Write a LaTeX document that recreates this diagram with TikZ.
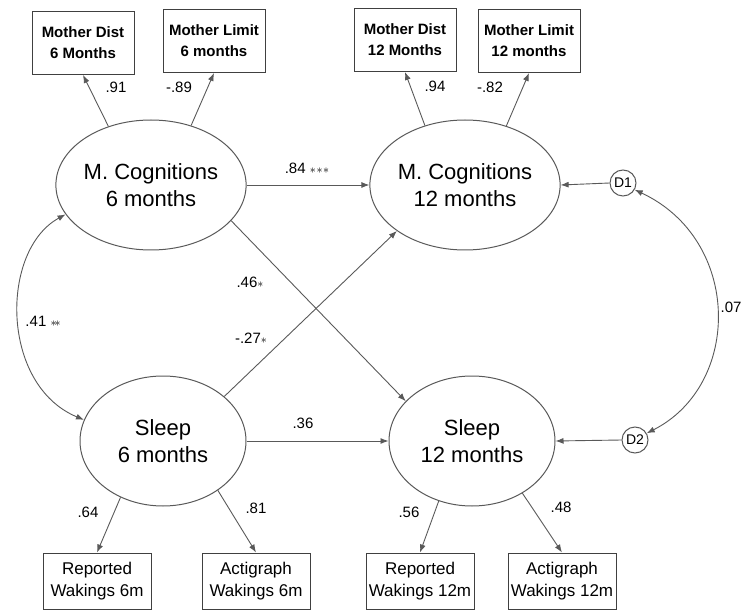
\documentclass[tikz,border=0pt]{standalone}
\usepackage{fontspec}
\setmainfont{Liberation Sans}
\usepackage{tikz}
\usetikzlibrary{arrows.meta}
\usetikzlibrary{shapes}

\newcommand{\sig}[1]{{\fontsize{12}{12}\selectfont$#1$}}

\begin{document}
\begin{tikzpicture}[x=1pt,y=-1pt]
          \useasboundingbox (0,0) rectangle (744,612);
          \begin{scope}[every node/.style={rectangle,draw=black!75,line width=1pt,align=center,fill=white,
              minimum width=102pt,minimum height=63pt,inner sep=2pt,font=\fontsize{15}{21}\selectfont\bfseries}]
            \node (md6) at (83,43) {Mother Dist\\6 Months};
            \node (ml6) at (214,41) {Mother Limit\\6 months};
            \node (md12) at (405,40) {Mother Dist\\12 Months};
            \node (ml12) at (529,41) {Mother Limit\\12 months};
          \end{scope}
          \begin{scope}[every node/.style={rectangle,draw=black!75,line width=1pt,align=center,fill=white,
              minimum width=108pt,minimum height=56pt,inner sep=2pt,font=\fontsize{17}{22}\selectfont}]
            \node (rep6) at (97,581) {Reported\\Wakings 6m};
            \node (act6) at (256,581) {Actigraph\\Wakings 6m};
            \node (rep12) at (420,581) {Reported\\Wakings 12m};
            \node (act12) at (562,581) {Actigraph\\Wakings 12m};
          \end{scope}
          \begin{scope}[every node/.style={ellipse,draw=black!65,line width=1pt,align=center,
              minimum width=166pt,minimum height=130pt,inner sep=0pt,font=\fontsize{22}{27}\selectfont}]
            \node (m6) at (151,185) {M. Cognitions\\6 months};
            \node (m12) at (465,185) {M. Cognitions\\12 months};
            \node (s6) at (163,441) {Sleep\\6 months};
            \node (s12) at (472,441) {Sleep\\12 months};
          \end{scope}
          \begin{scope}[every node/.style={circle,draw=black!65,line width=1pt,minimum size=26pt,inner sep=0pt,
              font=\fontsize{14}{14}\selectfont}]
            \node (d1) at (623,183) {D1};
            \node (d2) at (635,440) {D2};
          \end{scope}
          \begin{scope}[every node/.style={font=\fontsize{15}{17}\selectfont,inner sep=0pt}]
            \node (l91) at (116,87) {.91};
            \node (l89) at (179,87) {-.89};
            \node (l94) at (435,86) {.94};
            \node (l82) at (490,87) {-.82};
            \node (l84) at (307,168) {.84 \sig{\ast\!\ast\!\ast}};
            \node (l46) at (250,282) {.46\sig{\ast}};
            \node (l27) at (251,338) {-.27\sig{\ast}};
            \node (l41) at (43,321) {.41 \sig{\ast\!\ast}};
            \node (l36) at (303,423) {.36};
            \node (l07) at (731,307) {.07};
            \node (l64) at (88,512) {.64};
            \node (l81) at (256,508) {.81};
            \node (l56) at (409,512) {.56};
            \node (l48) at (561,507) {.48};
          \end{scope}
          \begin{scope}[every edge/.style={draw=black!65,line width=0.9pt,-{Latex[length=8pt,width=6pt]}}]
            \path (m6.126) edge (md6.south);
            \path (m6.56) edge (ml6.south);
            \path (m12.124) edge (md12.south);
            \path (m12.55) edge (ml12.south);
            \path (m6.east) edge (m12.west);
            \path (m6.-24) edge (s12.149);
            \path (s6.36) edge (m12.214);
            \path (s6.east) edge (s12.west);
            \path (d1.west) edge (m12.east);
            \path (d2.west) edge (s12.east);
            \path (s6.233) edge (rep6.north);
            \path (s6.318) edge (act6.north);
            \path (s12.241) edge (rep12.north);
            \path (s12.314) edge (act12.north);
          \end{scope}
          \draw[draw=black!65,line width=0.9pt,{Latex[length=8pt,width=6pt]}-{Latex[length=8pt,width=6pt]}]
            (m6.199) .. controls (0,250) and (0,385) .. (s6.165);
          \draw[draw=black!65,line width=0.9pt,{Latex[length=8pt,width=6pt]}-{Latex[length=8pt,width=6pt]}]
            (d1.-30) .. controls (742,240) and (742,385) .. (d2.30);
        \end{tikzpicture}
\end{document}
